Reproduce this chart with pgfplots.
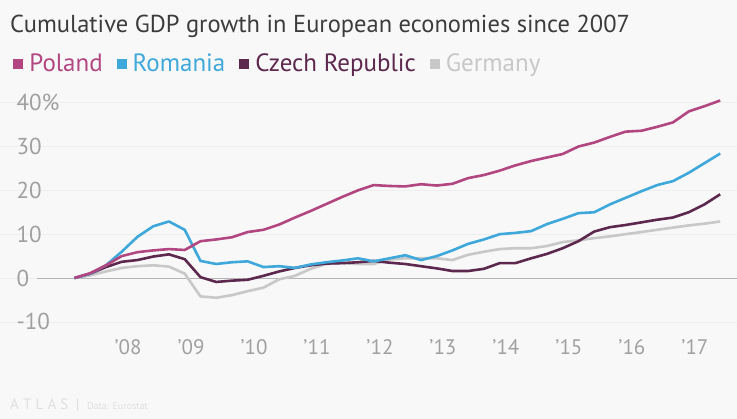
\documentclass[border=0pt]{standalone}
\usepackage{fontspec}
\setmainfont{PT Sans}
\usepackage{pgfplots}
\pgfplotsset{compat=1.18}
\usepackage{pgfplotstable}

\definecolor{pol}{RGB}{178,70,128}
\definecolor{rom}{RGB}{62,168,218}
\definecolor{cze}{RGB}{93,40,78}
\definecolor{ger}{RGB}{200,200,200}
\definecolor{bg}{RGB}{248,248,248}
\definecolor{ttl}{RGB}{60,60,60}
\definecolor{tick}{RGB}{160,160,160}
\definecolor{gridc}{RGB}{238,238,238}
\definecolor{zeroc}{RGB}{180,180,180}

% quarterly cumulative growth since 2007, %
\pgfplotstableread{
x       pol  rom  cze  ger
2007.15 0    0    0    0
2007.40 1.1  1.0  1.0  0.6
2007.65 2.9  2.9  2.5  1.5
2007.90 5.0  6.0  3.7  2.3
2008.15 5.9  9.4  4.1  2.7
2008.40 6.3  11.8 4.9  2.9
2008.65 6.6  12.9 5.4  2.6
2008.90 6.4  11.0 4.3  1.0
2009.15 8.4  3.9  0.2  -4.2
2009.40 8.8  3.2  -0.9 -4.5
2009.65 9.3  3.6  -0.6 -3.9
2009.90 10.5 3.8  -0.4 -3.0
2010.15 11.0 2.5  0.5  -2.2
2010.40 12.2 2.7  1.5  -0.3
2010.65 13.8 2.3  2.3  0.5
2010.90 15.3 3.1  2.9  2.1
2011.15 16.9 3.6  3.3  3.2
2011.40 18.5 4.0  3.4  3.4
2011.65 20.0 4.5  3.6  3.2
2011.90 21.2 3.8  3.9  3.2
2012.15 21.0 4.5  3.5  4.2
2012.40 20.9 5.2  3.2  4.5
2012.65 21.4 4.1  2.7  4.5
2012.90 21.1 5.0  2.2  4.5
2013.15 21.5 6.3  1.6  4.1
2013.40 22.8 7.8  1.6  5.3
2013.65 23.5 8.8  2.1  6.0
2013.90 24.5 10.0 3.4  6.6
2014.15 25.7 10.3 3.4  6.8
2014.40 26.7 10.7 4.5  6.8
2014.65 27.5 12.3 5.5  7.3
2014.90 28.3 13.5 6.8  8.2
2015.15 30.0 14.8 8.4  8.6
2015.40 30.9 15.0 10.6 9.1
2015.65 32.2 16.8 11.6 9.5
2015.90 33.4 18.3 12.1 10.0
2016.15 33.6 19.8 12.7 10.5
2016.40 34.5 21.2 13.3 11.0
2016.65 35.5 22.1 13.8 11.5
2016.90 38.0 24.0 15.0 12.0
2017.15 39.2 26.2 16.8 12.4
2017.40 40.5 28.4 19.1 12.9
}\gdp

\begin{document}
\begin{tikzpicture}
\useasboundingbox (0,0) rectangle (737bp,419bp);
\fill[bg] (0,0) rectangle (737bp,419bp);

\node[anchor=base west, text=ttl, font=\fontsize{24.5bp}{27bp}\selectfont, inner sep=0]
  at (10bp,386bp) {Cumulative GDP growth in European economies since 2007};

\begin{axis}[
    at={(0,84bp)}, anchor=south west,
    scale only axis,
    width=737bp, height=245bp,
    xmin=2005.968, xmax=2017.667,
    ymin=-13.0, ymax=42.9,
    axis line style={draw=none},
    tick style={draw=none},
    ytick={-10,0,10,20,30,40},
    yticklabels={-10,0,10,20,30,40\%},
    yticklabel style={anchor=west, xshift=13bp, text=tick,
        font=\fontsize{23bp}{24bp}\selectfont},
    xtick={2008,...,2017},
    xticklabels={’08,’09,’10,’11,’12,’13,’14,’15,’16,’17},
    xticklabel style={text=tick, yshift=-1bp,
        font=\fontsize{21bp}{22bp}\selectfont},
    ymajorgrids,
    major grid style={draw=gridc, line width=0.6bp},
    reverse legend,
    legend style={at={(0.018,1.110)}, anchor=west, draw=none, fill=none,
        legend columns=4, inner xsep=0, inner ysep=0,
        font=\fontsize{25bp}{26bp}\selectfont,
        /tikz/every even column/.append style={column sep=12bp}},
    legend cell align=left,
    legend image code/.code={
        \fill[#1, draw=none] (0bp,-6bp) rectangle (10bp,4bp);
        \path[draw=none] (0bp,0bp) -- (14bp,0bp);},
    every axis plot/.append style={line width=2.6bp, line join=round},
]
\draw[zeroc, line width=1bp]
  (axis cs:2006.55,0) -- (axis cs:2017.667,0);
\addplot[ger, mark=none] table[x=x, y=ger] {\gdp};
\addplot[cze, mark=none] table[x=x, y=cze] {\gdp};
\addplot[rom, mark=none] table[x=x, y=rom] {\gdp};
\addplot[pol, mark=none] table[x=x, y=pol] {\gdp};
\legend{\textcolor{ger}{Germany},\textcolor{cze}{Czech Republic},\textcolor{rom}{Romania},\textcolor{pol}{Poland}}
\end{axis}

\node[anchor=west, text=black!12, font=\fontsize{15bp}{16bp}\selectfont, inner sep=0]
  at (10bp,14bp) {A\;T\;L\;A\;S\enspace|\enspace{\fontsize{10bp}{11bp}\selectfont Data: Eurostat}};
\end{tikzpicture}
\end{document}
